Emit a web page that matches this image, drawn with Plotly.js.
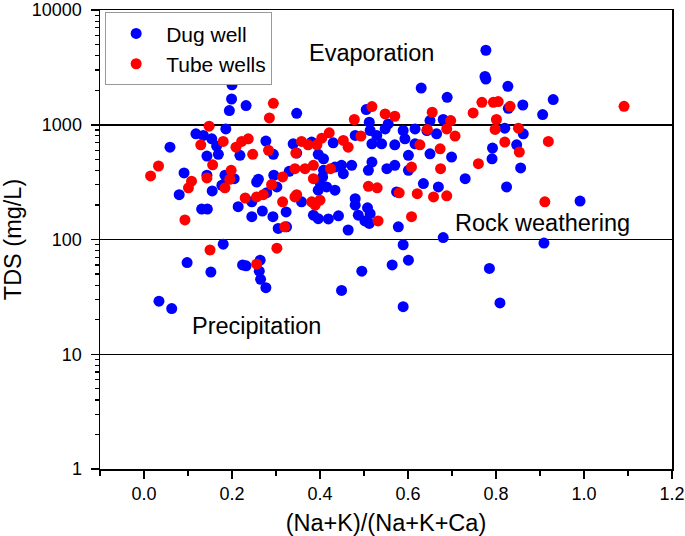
<!DOCTYPE html>
<html>
<head>
<meta charset="utf-8">
<script src="https://cdn.plot.ly/plotly-3.0.1.min.js"></script>
<style>html,body{margin:0;padding:0;background:#fff;}#chart{width:685px;height:536px;}</style>
</head>
<body>
<div id="chart"></div>
<script>
// Dug well samples: ratio (Na+K)/(Na+K+Ca) and TDS (mg/L)
const dugRatio = [0.20,0.199,0.194,0.232,0.630,0.689,0.347,0.505,0.512,0.555,0.65,0.680,0.616,0.777,0.775,0.777,0.827,0.930,0.861,0.906,0.828,0.820,0.862,0.118,0.135,0.186,0.154,0.165,0.059,0.277,0.294,0.218,0.169,0.143,0.091,0.080,0.143,0.184,0.205,0.177,0.155,0.256,0.260,0.295,0.302,0.330,0.279,0.245,0.214,0.269,0.245,0.293,0.323,0.305,0.131,0.144,0.180,0.339,0.381,0.430,0.480,0.514,0.529,0.548,0.518,0.540,0.570,0.589,0.593,0.616,0.643,0.665,0.650,0.699,0.601,0.347,0.396,0.601,0.570,0.552,0.518,0.510,0.472,0.449,0.453,0.434,0.408,0.408,0.406,0.401,0.396,0.415,0.434,0.574,0.635,0.669,0.730,0.358,0.385,0.396,0.419,0.442,0.480,0.480,0.508,0.514,0.487,0.502,0.512,0.464,0.578,0.324,0.680,0.589,0.792,0.847,0.791,0.856,0.824,0.991,0.909,0.098,0.152,0.224,0.232,0.264,0.262,0.265,0.277,0.034,0.063,0.449,0.495,0.564,0.601,0.589,0.809,0.785];
const dugTDS = [2230,1676,1330,1469,2089,1734,1259,1356,1052,1017,1088,1111,920,4460,2638,2500,2161,1656,1486,1227,1392,933,833,833,807,920,754,652,638,720,552,541,552,533,380,246,363,363,339,297,265,317,335,363,287,393,256,213,193,177,158,158,174,125,184,184,91,682,706,696,807,891,807,920,682,682,669,891,754,682,891,833,558,523,541,566,552,401,443,414,473,401,443,443,375,428,505,401,351,307,269,287,269,260,307,287,339,213,163,152,151,161,227,199,189,168,163,145,138,121,129,129,104,90,626,669,505,420,287,216,93,63,52,60,59,66,53,45,38,29,25,36,53,60,66,26,28,56];

// Tube well samples
const tubeRatio = [0.294,0.285,0.148,0.518,0.548,0.570,0.478,0.655,0.697,0.748,0.421,0.644,0.688,0.832,0.768,0.794,0.805,0.801,0.798,0.851,1.091,0.129,0.180,0.209,0.222,0.237,0.283,0.247,0.156,0.033,0.015,0.108,0.101,0.143,0.198,0.195,0.184,0.290,0.315,0.230,0.256,0.271,0.315,0.320,0.093,0.150,0.302,0.404,0.393,0.358,0.373,0.453,0.464,0.493,0.627,0.707,0.673,0.345,0.760,0.674,0.608,0.424,0.385,0.366,0.343,0.385,0.510,0.530,0.580,0.621,0.658,0.688,0.347,0.343,0.381,0.400,0.389,0.532,0.608,0.820,0.853,0.919,0.911,0.256];
const tubeTDS = [1538,1147,971,1440,1242,1186,1111,1285,1088,1268,850,910,920,1449,1570,1570,1592,1111,910,933,1449,669,716,638,716,754,598,552,448,437,358,322,282,344,401,335,282,301,351,230,235,246,213,129,148,81,84,764,669,716,669,730,638,796,669,796,617,566,458,414,428,414,443,414,414,339,291,282,255,251,235,240,246,235,213,220,199,145,158,706,578,716,213,61];

const FONT = '"Liberation Sans", Arial, Helvetica, sans-serif';

const traces = [
  {x: dugRatio, y: dugTDS, mode: 'markers', type: 'scatter', name: 'Dug well',
   marker: {color: '#0000FF', size: 11, line: {width: 0}}},
  {x: tubeRatio, y: tubeTDS, mode: 'markers', type: 'scatter', name: 'Tube wells',
   marker: {color: '#FF0000', size: 11, line: {width: 0}}}
];

const layout = {
  width: 685, height: 536,
  margin: {l: 100, r: 13, t: 10, b: 67},
  paper_bgcolor: '#fff', plot_bgcolor: '#fff',
  font: {family: FONT, color: '#000', size: 18},
  showlegend: true,
  legend: {x: 0.009, y: 0.995, xanchor: 'left', yanchor: 'top',
    bgcolor: '#fff', bordercolor: '#999', borderwidth: 1,
    font: {family: FONT, size: 21}, itemwidth: 50, tracegroupgap: 0},
  xaxis: {
    range: [-0.1, 1.2], tickmode: 'linear', tick0: 0, dtick: 0.2, tickformat: '.1f',
    ticks: 'outside', ticklen: 8, tickwidth: 1.5, tickcolor: '#000',
    showline: true, linewidth: 1.5, linecolor: '#000', mirror: true,
    showgrid: false, zeroline: false, ticklabeloverflow: 'allow',
    minor: {tick0: 0, dtick: 0.1, ticks: 'outside', ticklen: 5, tickwidth: 1.5, tickcolor: '#000', showgrid: false},
    tickfont: {size: 18},
    title: {text: '(Na+K)/(Na+K+Ca)', font: {size: 23.5}, standoff: 12}
  },
  yaxis: {
    type: 'log', range: [0, 4], tickmode: 'linear', tick0: 0, dtick: 1, tickformat: 'd',
    ticks: 'outside', ticklen: 8, tickwidth: 1.5, tickcolor: '#000',
    showline: true, linewidth: 1.5, linecolor: '#000', mirror: true,
    showgrid: true, gridcolor: '#000', gridwidth: 1.5, zeroline: false,
    ticklabeloverflow: 'allow',
    minor: {dtick: 'D1', ticks: 'outside', ticklen: 4, tickwidth: 1.2, tickcolor: '#000', showgrid: false},
    tickfont: {size: 18}, ticklabelstandoff: 5,
    title: {text: 'TDS (mg/L)', font: {size: 23.5}, standoff: 18}
  },
  annotations: [
    {text: 'Evaporation', xref: 'paper', yref: 'paper', x: 0.474, y: 0.907, xanchor: 'center', yanchor: 'middle', showarrow: false, font: {size: 23.5}},
    {text: 'Rock weathering', xref: 'paper', yref: 'paper', x: 0.773, y: 0.536, xanchor: 'center', yanchor: 'middle', showarrow: false, font: {size: 23.5}},
    {text: 'Precipitation', xref: 'paper', yref: 'paper', x: 0.274, y: 0.311, xanchor: 'center', yanchor: 'middle', showarrow: false, font: {size: 23.5}}
  ]
};

Plotly.newPlot('chart', traces, layout, {displayModeBar: false, staticPlot: true});
</script>
</body>
</html>
